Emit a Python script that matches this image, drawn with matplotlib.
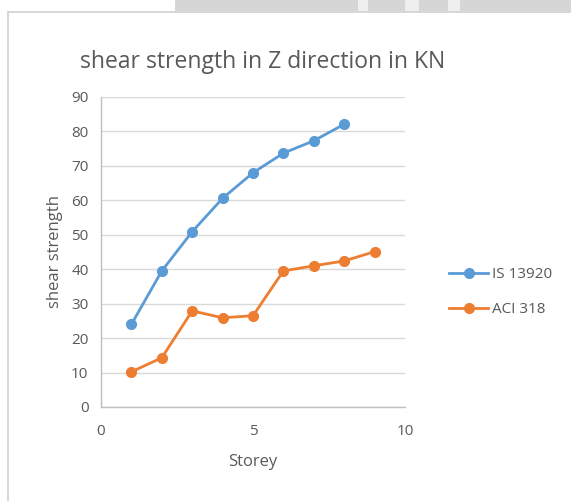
import matplotlib.pyplot as plt
from matplotlib.patches import Rectangle

# storey numbers and shear strength (KN) per code
storeys_is = [1, 2, 3, 4, 5, 6, 7, 8]
shear_is = [24.0, 39.5, 50.9, 60.6, 68.0, 73.7, 77.3, 82.1]

storeys_aci = [1, 2, 3, 4, 5, 6, 7, 8, 9]
shear_aci = [10.2, 14.3, 27.9, 25.9, 26.5, 39.5, 41.0, 42.4, 45.1]

series_names = ["IS 13920", "ACI 318"]
y_ticks = [0, 10, 20, 30, 40, 50, 60, 70, 80, 90]
x_ticks = [0, 5, 10]

plt.rcParams['font.family'] = ['Open Sans', 'DejaVu Sans']
txt = "#595959"

fig = plt.figure(figsize=(5.71, 5.01), dpi=100)
W, H = 571, 501

# grey strip across the top and the chart-area frame
fig.patches.append(Rectangle((175 / W, 1 - 11 / H), 1, 11 / H, transform=fig.transFigure,
                             facecolor="#d6d6d6", edgecolor="none", zorder=-2))
for gx, gw in [(358, 10), (405, 14), (448, 12)]:
    fig.patches.append(Rectangle((gx / W, 1 - 11 / H), gw / W, 11 / H, transform=fig.transFigure,
                                 facecolor="#efefef", edgecolor="none", zorder=-2))
fig.patches.append(Rectangle((8 / W, -0.1), 1, 1 - 12 / H + 0.1, transform=fig.transFigure,
                             facecolor="white", edgecolor="#d0d0d0", linewidth=1.2, zorder=-1))

ax = fig.add_axes([101 / W, 1 - 407 / H, 304 / W, 310 / H])
ax.set_facecolor("none")

ax.plot(storeys_is, shear_is, color="#5B9BD5", linewidth=2, marker="o", markersize=7,
        label=series_names[0], zorder=3)
ax.plot(storeys_aci, shear_aci, color="#ED7D31", linewidth=2, marker="o", markersize=7,
        label=series_names[1], zorder=3)

ax.set_xlim(0, 10)
ax.set_ylim(0, 90)
ax.set_xticks(x_ticks)
ax.set_yticks(y_ticks)
ax.tick_params(length=0, colors=txt, labelsize=11)
ax.tick_params(axis="x", pad=12)
ax.tick_params(axis="y", pad=9)
ax.yaxis.grid(True, color="#d9d9d9", linewidth=1)
ax.set_axisbelow(True)
for s in ["top", "right"]:
    ax.spines[s].set_visible(False)
for s in ["left", "bottom"]:
    ax.spines[s].set_color("#bfbfbf")
    ax.spines[s].set_linewidth(1)

ax.set_xlabel("Storey", color=txt, fontsize=12, labelpad=11)
ax.set_ylabel("shear strength", color=txt, fontsize=12, labelpad=6)

fig.text(263 / W, 1 - 62 / H, "shear strength in Z direction in KN", ha="center", va="center",
         fontsize=16.5, color=txt)

ax.legend(loc="center left", bbox_to_anchor=(435 / W, 1 - 292 / H), bbox_transform=fig.transFigure,
          frameon=False, fontsize=11, labelcolor=txt, handlelength=2.6, handletextpad=0.2,
          labelspacing=1.3)

fig.savefig("out.png", dpi=100)
